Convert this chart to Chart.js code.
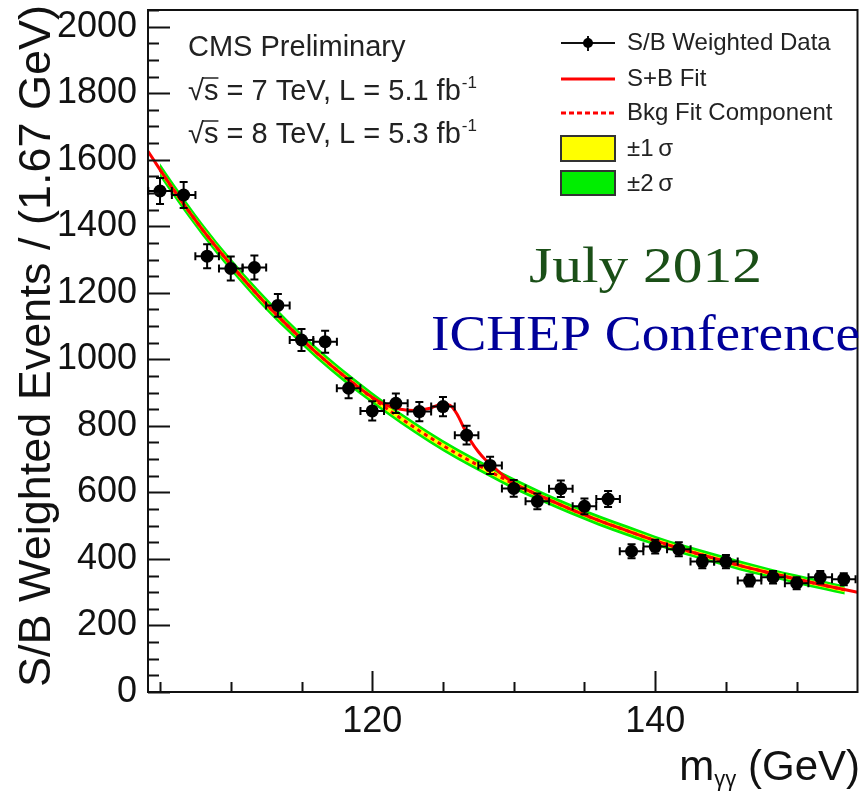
<!DOCTYPE html>
<html>
<head>
<meta charset="utf-8">
<script src="https://cdn.jsdelivr.net/npm/chart.js@4"></script>
<style>
  html, body { margin: 0; padding: 0; background: #fff; }
  #wrap { width: 864px; height: 798px; }
</style>
</head>
<body>
<div id="wrap"><canvas id="chart" width="864" height="798"></canvas></div>
<script>
// bin centres (GeV) and S/B weighted counts
const massBins = [105.0, 106.67, 108.33, 110.0, 111.67, 113.33, 115.0, 116.67, 118.33, 120.0,
  121.67, 123.33, 125.0, 126.67, 128.33, 130.0, 131.67, 133.33, 135.0, 136.67,
  138.33, 140.0, 141.67, 143.33, 145.0, 146.67, 148.33, 150.0, 151.67, 153.33];
const weightedEvents = [1506, 1494, 1310, 1273, 1276, 1162, 1058, 1053, 913, 845,
  868, 843, 858, 772, 681, 612, 573, 611, 558, 580,
  423, 437, 429, 392, 392, 335, 345, 327, 345, 339];
const eventErrors = [39, 39, 36, 36, 36, 34, 33, 33, 30, 29,
  29, 29, 29, 28, 26, 25, 24, 25, 24, 24,
  21, 21, 21, 20, 20, 18, 19, 18, 19, 18];
const binHalfWidth = 0.833;

// background fit component with its 1 and 2 sigma bands
const bkgMass = [105, 106, 108, 110, 112, 114, 116, 118, 120, 122, 124, 126, 128,
  130, 132, 134, 136, 138, 140, 142, 144, 146, 148, 150, 152, 153.4];
const bkgFit = [1569, 1507, 1390, 1285, 1189, 1102, 1022, 950, 884, 823, 767, 716, 670,
  626, 587, 550, 516, 485, 455, 428, 404, 380, 359, 339, 320, 307];
const bkgErr1 = [9, 9, 9, 9, 9, 8, 8, 8, 8, 8, 8, 8, 8, 8, 7, 7, 7, 7, 7, 7, 7, 7, 7, 7, 7, 7];
const bkgErr2 = [20, 20, 19, 19, 19, 18, 18, 18, 17, 17, 17, 17, 17, 17, 16, 16, 16, 16, 15, 15, 15, 15, 14, 14, 14, 14];

// signal + background fit
const sbMass = [104.15, 106, 108, 110, 112, 114, 116, 118, 120, 121, 122, 123, 124, 124.5,
  125, 125.5, 126, 126.5, 127, 127.5, 128, 128.5, 129, 130, 132, 134, 136, 138,
  140, 142, 144, 146, 148, 150, 152, 154.3];
const sbFit = [1625, 1507, 1390, 1285, 1189, 1102, 1022, 950, 886, 862, 850, 846, 852, 860,
  866, 862, 835, 792, 752, 722, 698, 680, 660, 628, 587, 550, 516, 485,
  455, 428, 404, 380, 359, 339, 320, 300];

const xTicks = [120, 140];
const yTicks = [0, 200, 400, 600, 800, 1000, 1200, 1400, 1600, 1800, 2000];

const SANS = "'Liberation Sans', Arial, sans-serif";
const SERIF = "'Liberation Serif', 'DejaVu Serif', serif";

const pts = (xs, ys) => xs.map((x, i) => ({ x: x, y: ys[i] }));
const band = (sign, err) => bkgMass.map((x, i) => ({ x: x, y: bkgFit[i] + sign * err[i] }));

// error bars on the data points
const errorBars = {
  id: "errorBars",
  afterDatasetsDraw(chart) {
    const { ctx, scales: { x, y } } = chart;
    ctx.save();
    ctx.strokeStyle = "#000";
    ctx.lineWidth = 2;
    massBins.forEach((m, i) => {
      const px = x.getPixelForValue(m);
      const py = y.getPixelForValue(weightedEvents[i]);
      const top = y.getPixelForValue(weightedEvents[i] + eventErrors[i]);
      const bot = y.getPixelForValue(weightedEvents[i] - eventErrors[i]);
      const l = x.getPixelForValue(m - binHalfWidth);
      const r = x.getPixelForValue(m + binHalfWidth);
      ctx.beginPath();
      ctx.moveTo(px, top); ctx.lineTo(px, bot);
      ctx.moveTo(l, py); ctx.lineTo(r, py);
      ctx.moveTo(px - 4, top); ctx.lineTo(px + 4, top);
      ctx.moveTo(px - 4, bot); ctx.lineTo(px + 4, bot);
      ctx.moveTo(l, py - 4); ctx.lineTo(l, py + 4);
      ctx.moveTo(r, py - 4); ctx.lineTo(r, py + 4);
      ctx.stroke();
    });
    ctx.restore();
  }
};

// ROOT style frame with inward ticks
const frame = {
  id: "frame",
  afterDatasetsDraw(chart) {
    const { ctx, chartArea: a, scales: { x, y } } = chart;
    ctx.save();
    ctx.strokeStyle = "#111";
    ctx.lineWidth = 2;
    ctx.strokeRect(a.left, a.top, a.right - a.left, a.bottom - a.top);
    ctx.beginPath();
    for (let v = 0; v <= 2050; v += 50) {
      const py = Math.round(y.getPixelForValue(v)) + 0.5;
      const len = v % 200 === 0 ? 22 : 11;
      ctx.moveTo(a.left, py); ctx.lineTo(a.left + len, py);
    }
    for (let v = 105; v <= 154; v += 5) {
      const px = Math.round(x.getPixelForValue(v)) + 0.5;
      const len = xTicks.includes(v) ? 21 : 10;
      ctx.moveTo(px, a.bottom); ctx.lineTo(px, a.bottom - len);
    }
    ctx.stroke();
    ctx.restore();
  }
};

function sqrtLine(ctx, x, y, rest) {
  ctx.font = "29px " + SANS;
  ctx.fillText("\u221A", x, y);
  let cx = x + ctx.measureText("\u221A").width;
  const sw = ctx.measureText("s").width;
  ctx.fillText("s", cx, y);
  ctx.beginPath();
  ctx.moveTo(cx - 1, y - 22); ctx.lineTo(cx + sw, y - 22);
  ctx.lineWidth = 1.5;
  ctx.stroke();
  cx += sw;
  ctx.fillText(rest, cx, y);
  cx += ctx.measureText(rest).width;
  ctx.font = "17px " + SANS;
  ctx.fillText("-1", cx + 1, y - 12);
}

function stretchText(ctx, text, x, y, font, width, color) {
  ctx.save();
  ctx.font = font;
  ctx.fillStyle = color;
  const w = ctx.measureText(text).width;
  ctx.translate(x, y);
  ctx.scale(width / w, 1);
  ctx.fillText(text, 0, 0);
  ctx.restore();
}

// titles, annotations and legend
const texts = {
  id: "texts",
  afterDraw(chart) {
    const ctx = chart.ctx;
    ctx.save();
    ctx.fillStyle = "#111";
    ctx.strokeStyle = "#111";
    ctx.textBaseline = "alphabetic";
    ctx.textAlign = "left";

    // y title
    ctx.save();
    ctx.translate(50, 687);
    ctx.rotate(-Math.PI / 2);
    ctx.font = "45px " + SANS;
    ctx.fillText("S/B Weighted Events / (1.67 GeV)", 0, 0);
    ctx.restore();

    // x title
    ctx.font = "42px " + SANS;
    const tail = " (GeV)";
    let xr = 860 - ctx.measureText(tail).width;
    ctx.fillText(tail, xr, 780);
    ctx.font = "22px " + SANS;
    xr -= ctx.measureText("\u03B3\u03B3").width;
    ctx.fillText("\u03B3\u03B3", xr, 786);
    ctx.font = "42px " + SANS;
    xr -= ctx.measureText("m").width;
    ctx.fillText("m", xr, 780);

    // CMS label
    ctx.fillStyle = "#222";
    ctx.strokeStyle = "#222";
    ctx.font = "29px " + SANS;
    ctx.fillText("CMS Preliminary", 188, 56);
    sqrtLine(ctx, 188, 100, " = 7 TeV, L = 5.1 fb");
    sqrtLine(ctx, 188, 143, " = 8 TeV, L = 5.3 fb");

    // legend
    const lx0 = 561, lx1 = 615, tx = 627;
    ctx.font = "24px " + SANS;
    ctx.textBaseline = "middle";
    ctx.fillStyle = "#222";
    ctx.fillText("S/B Weighted Data", tx, 43);
    ctx.fillText("S+B Fit", tx, 79);
    ctx.fillText("Bkg Fit Component", tx, 113);
    ctx.fillText("\u00B11\u2009\u03C3", tx, 149);
    ctx.fillText("\u00B12\u2009\u03C3", tx, 184);

    ctx.lineWidth = 2;
    ctx.strokeStyle = "#111";
    ctx.beginPath();
    ctx.moveTo(lx0, 43); ctx.lineTo(lx1, 43);
    ctx.moveTo(588, 36); ctx.lineTo(588, 51);
    ctx.stroke();
    ctx.fillStyle = "#000";
    ctx.beginPath(); ctx.arc(588, 43, 5, 0, Math.PI * 2); ctx.fill();

    ctx.strokeStyle = "#ff0000";
    ctx.lineWidth = 3;
    ctx.beginPath(); ctx.moveTo(lx0, 79); ctx.lineTo(lx1, 79); ctx.stroke();
    ctx.setLineDash([5, 3]);
    ctx.beginPath(); ctx.moveTo(lx0, 113); ctx.lineTo(lx1, 113); ctx.stroke();
    ctx.setLineDash([]);

    ctx.lineWidth = 2;
    ctx.strokeStyle = "#333";
    ctx.fillStyle = "#ffff00";
    ctx.fillRect(lx0, 136, lx1 - lx0, 25);
    ctx.strokeRect(lx0, 136, lx1 - lx0, 25);
    ctx.fillStyle = "#00ee00";
    ctx.fillRect(lx0, 171, lx1 - lx0, 24);
    ctx.strokeRect(lx0, 171, lx1 - lx0, 24);

    // conference stamp
    ctx.textBaseline = "alphabetic";
    stretchText(ctx, "July 2012", 529, 282, "50px " + SERIF, 233, "#1a4f17");
    stretchText(ctx, "ICHEP Conference", 431, 350, "50px " + SERIF, 429, "#00009a");
    ctx.restore();
  }
};

new Chart(document.getElementById("chart").getContext("2d"), {
  type: "line",
  data: {
    datasets: [
      { data: band(1, bkgErr2), borderWidth: 0, pointRadius: 0, fill: "+1", backgroundColor: "#00ee00", order: 10 },
      { data: band(-1, bkgErr2), borderWidth: 0, pointRadius: 0, fill: false, order: 9 },
      { data: band(1, bkgErr1), borderWidth: 0, pointRadius: 0, fill: "+1", backgroundColor: "#ffff00", order: 8 },
      { data: band(-1, bkgErr1), borderWidth: 0, pointRadius: 0, fill: false, order: 7 },
      { data: pts(bkgMass, bkgFit), borderColor: "#ff0000", borderWidth: 3, borderDash: [4, 4], pointRadius: 0, fill: false, order: 3 },
      { data: pts(sbMass, sbFit), borderColor: "#ff0000", borderWidth: 3, pointRadius: 0, fill: false, order: 2 },
      { data: pts(massBins, weightedEvents), showLine: false, pointRadius: 6.5, pointBackgroundColor: "#000", pointBorderWidth: 0, order: 1 }
    ]
  },
  options: {
    responsive: false,
    animation: false,
    devicePixelRatio: 1,
    layout: { padding: { top: 10, right: 2, left: 0, bottom: 0 } },
    plugins: { legend: { display: false }, tooltip: { enabled: false } },
    elements: { line: { cubicInterpolationMode: "monotone" } },
    scales: {
      x: {
        type: "linear",
        min: 104.15,
        max: 154.3,
        grid: { display: false, drawTicks: false },
        border: { display: false },
        afterBuildTicks: (scale) => { scale.ticks = xTicks.map((v) => ({ value: v })); },
        afterFit: (scale) => { scale.height = 106; scale.paddingLeft = 0; scale.paddingRight = 0; },
        ticks: { color: "#111", font: { family: SANS, size: 36 }, padding: 8, maxRotation: 0, callback: (v) => String(v) }
      },
      y: {
        type: "linear",
        min: 0,
        max: 2050,
        grid: { display: false, drawTicks: false },
        border: { display: false },
        afterBuildTicks: (scale) => { scale.ticks = yTicks.map((v) => ({ value: v })); },
        afterFit: (scale) => { scale.width = 148; scale.paddingTop = 0; scale.paddingBottom = 0; },
        ticks: { color: "#111", font: { family: SANS, size: 36 }, padding: 11, callback: (v) => String(v) }
      }
    }
  },
  plugins: [frame, errorBars, texts]
});
</script>
</body>
</html>
